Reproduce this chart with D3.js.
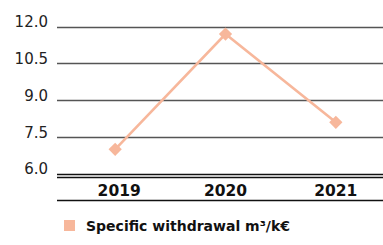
<!DOCTYPE html>
<html><head><meta charset="utf-8">
<script src="https://cdn.jsdelivr.net/npm/d3@7"></script>
<style>html,body{margin:0;padding:0;background:#fff;}svg{display:block;}</style>
</head><body>
<svg id="c" width="383" height="245"></svg>
<script>
const years = ["2019", "2020", "2021"];
const values = [7.0, 11.7, 8.1];
const yTicks = [6.0, 7.5, 9.0, 10.5, 12.0];
const seriesName = "Specific withdrawal m³/k€";
const lineColor = "#F7B79B";

const svg = d3.select("#c");
const left = 57, right = 383;
const x = d3.scalePoint().domain(years).range([60, 391]).padding(0.5);
const y = d3.scaleLinear().domain([6, 12]).range([173.8, 26.7]);

// grid lines
svg.append("g").selectAll("line").data(yTicks).join("line")
  .attr("x1", left).attr("x2", right)
  .attr("y1", d => Math.round(y(d)) + 0.5).attr("y2", d => Math.round(y(d)) + 0.5)
  .attr("stroke", d => d === 6 ? "#111" : "#555").attr("stroke-width", d => d === 6 ? 1.6 : 1.5);

// tick labels
svg.append("g").selectAll("text").data(yTicks).join("text")
  .attr("x", 48).attr("y", d => y(d) + 0.5)
  .attr("text-anchor", "end")
  .attr("font-family", "DejaVu Sans, sans-serif").attr("font-size", 15)
  .attr("fill", "#222")
  .text(d => d.toFixed(1));

// category axis lines
svg.append("line").attr("x1", left).attr("x2", right).attr("y1", 177.5).attr("y2", 177.5)
  .attr("stroke", "#111").attr("stroke-width", 1.4);
svg.append("line").attr("x1", left).attr("x2", right).attr("y1", 200.5).attr("y2", 200.5)
  .attr("stroke", "#111").attr("stroke-width", 1.4);

svg.append("g").selectAll("text").data(years).join("text")
  .attr("x", (d, i) => x(d) + (i === 0 ? 4 : 0)).attr("y", 195.5)
  .attr("text-anchor", "middle")
  .attr("font-family", "DejaVu Sans, sans-serif").attr("font-weight", "bold").attr("font-size", 15.5)
  .attr("fill", "#111")
  .text(d => d);

// line
const data = years.map((yr, i) => ({yr, v: values[i]}));
svg.append("path").datum(data)
  .attr("d", d3.line().x(d => x(d.yr)).y(d => y(d.v)))
  .attr("fill", "none").attr("stroke", lineColor).attr("stroke-width", 2.6);

svg.append("g").selectAll("path").data(data).join("path")
  .attr("d", d3.symbol(d3.symbolSquare, 88)())
  .attr("transform", d => `translate(${x(d.yr)},${y(d.v)}) rotate(45)`)
  .attr("fill", lineColor);

// legend
svg.append("rect").attr("x", 64).attr("y", 220).attr("width", 11).attr("height", 11).attr("fill", lineColor);
svg.append("text").attr("x", 86).attr("y", 231)
  .attr("font-family", "DejaVu Sans, sans-serif").attr("font-weight", "bold").attr("font-size", 14)
  .attr("fill", "#111")
  .text(seriesName);
</script>
</body></html>
